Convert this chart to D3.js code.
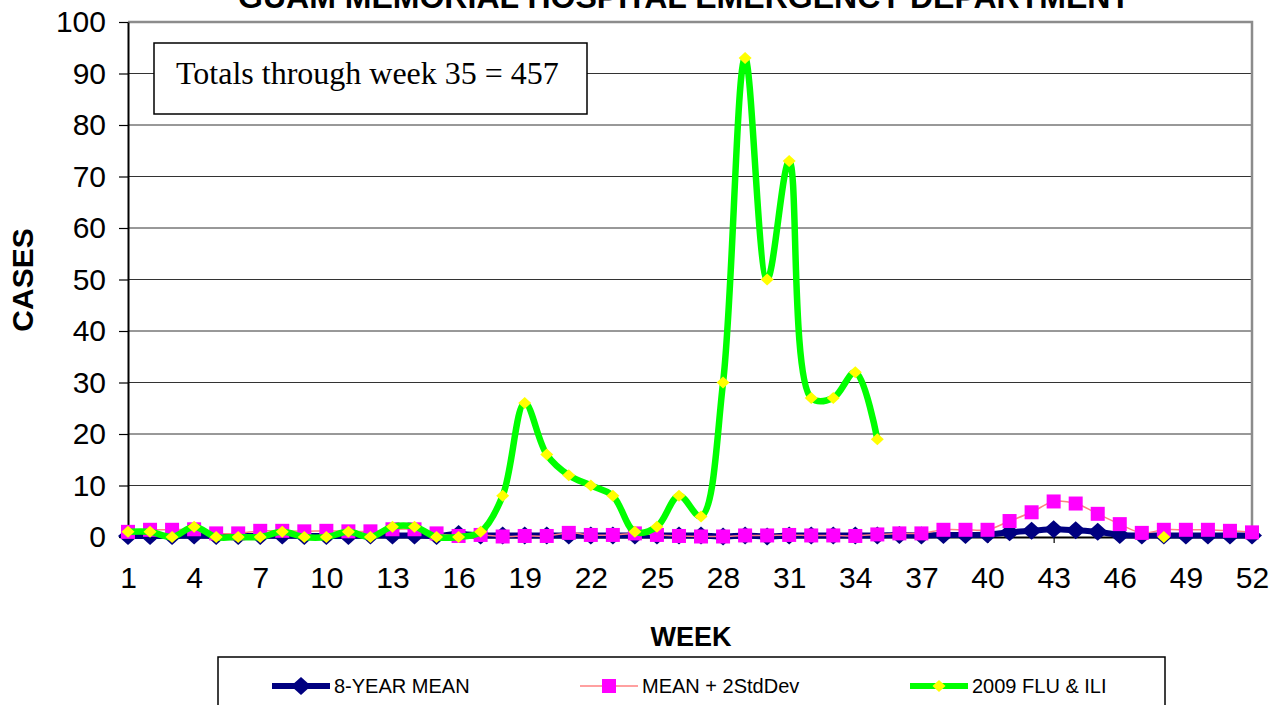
<!DOCTYPE html>
<html>
<head>
<meta charset="utf-8">
<script src="https://cdn.jsdelivr.net/npm/d3@7"></script>
<style>
body { margin: 0; background: #fff; }
text { font-family: Arial, "Liberation Sans", sans-serif; }
</style>
</head>
<body>
<div id="chart"></div>
<script>
// chart data
var weeks = d3.range(1, 53);
var xTicks = d3.range(1, 53, 3);
var yTicks = d3.range(0, 101, 10);

var mean8 = [0.2, 0.2, 0.2, 0.3, 0.2, 0.2, 0.2, 0.3, 0.2, 0.2, 0.2, 0.3, 0.3, 0.3, 0.2, 0.6, 0.3,
	0.3, 0.3, 0.3, 0.3, 0.3, 0.3, 0.3, 0.3, 0.3, 0.3, 0.1, 0.3, 0.1, 0.3, 0.3, 0.3, 0.3, 0.3,
	0.4, 0.3, 0.4, 0.4, 0.5, 0.9, 1.2, 1.5, 1.3, 1.0, 0.4, 0.3, 0.3, 0.3, 0.3, 0.3, 0.3];

var mean2sd = [1.0, 1.4, 1.4, 1.5, 0.7, 0.7, 1.2, 1.2, 1.1, 1.2, 1.1, 1.1, 1.5, 1.5, 0.7, 0.2, 0.4,
	0.1, 0.2, 0.2, 0.8, 0.4, 0.4, 0.7, 0.4, 0.2, 0.1, 0.1, 0.3, 0.3, 0.4, 0.3, 0.3, 0.2, 0.5,
	0.7, 0.7, 1.4, 1.4, 1.4, 3.1, 4.8, 6.9, 6.5, 4.5, 2.5, 0.8, 1.4, 1.4, 1.4, 1.2, 0.9];

var flu2009 = [1, 1, 0, 2, 0, 0, 0, 1, 0, 0, 1, 0, 2, 2, 0, 0, 1,
	8, 26, 16, 12, 10, 8, 1, 2, 8, 4, 30, 93, 50, 73, 27, 27, 32, 19,
	null, null, null, null, null, null, null, null, null, null, null, null, 0, null, null, null, null];

var seriesNames = ["8-YEAR MEAN", "MEAN + 2StdDev", "2009 FLU & ILI"];

var W = 1288, H = 705;
var svg = d3.select("#chart").append("svg")
	.attr("width", W)
	.attr("height", H)
	.style("background", "#fff");

var x = d3.scaleLinear().domain([1, 52]).range([128, 1252]);
var y = d3.scaleLinear().domain([0, 100]).range([537, 22]);

// gridlines
svg.append("g").selectAll("line")
	.data(yTicks.filter(function(d) { return d > 0 && d < 100; }))
	.enter().append("line")
	.attr("x1", 128).attr("x2", 1252)
	.attr("y1", function(d) { return y(d); })
	.attr("y2", function(d) { return y(d); })
	.style("stroke", "#333")
	.style("stroke-width", 1);

// plot border (top & right, gray)
svg.append("path")
	.attr("d", "M128," + y(100) + "H1252V" + y(0))
	.style("fill", "none")
	.style("stroke", "#8c8c8c")
	.style("stroke-width", 2.5);

// axes
var yAxis = svg.append("g")
	.attr("transform", "translate(128,0)")
	.call(d3.axisLeft(y).tickValues(yTicks).tickSize(9).tickPadding(13).tickSizeOuter(0));
var xAxis = svg.append("g")
	.attr("transform", "translate(0," + y(0) + ")")
	.call(d3.axisBottom(x).tickValues(xTicks).tickSize(6).tickPadding(24).tickSizeOuter(0));

[yAxis, xAxis].forEach(function(a) {
	a.select(".domain").style("stroke", "#000").style("stroke-width", 2);
	a.selectAll(".tick line").style("stroke", "#000").style("stroke-width", 1.2);
	a.selectAll(".tick text")
		.style("font-family", "Arial, 'Liberation Sans', sans-serif")
		.style("font-size", "30px")
		.style("fill", "#000");
});

// series
var curve = d3.curveCatmullRom.alpha(0.5);

function lineFor(vals) {
	return d3.line()
		.defined(function(d, i) { return vals[i] != null; })
		.x(function(d, i) { return x(weeks[i]); })
		.y(function(d, i) { return y(vals[i]); })
		.curve(curve)(vals);
}

function diamond(cx, cy, rw, rh) {
	return "M" + cx + "," + (cy - rh) + "L" + (cx + rw) + "," + cy +
		"L" + cx + "," + (cy + rh) + "L" + (cx - rw) + "," + cy + "Z";
}

// 8-year mean
svg.append("path")
	.attr("d", lineFor(mean8))
	.style("fill", "none").style("stroke", "#000080").style("stroke-width", 6);
svg.append("g").selectAll("path")
	.data(mean8)
	.enter().append("path")
	.attr("d", function(d, i) { return diamond(x(weeks[i]), y(d), 10, 9); })
	.style("fill", "#000080");

// mean + 2 sd
svg.append("path")
	.attr("d", lineFor(mean2sd))
	.style("fill", "none").style("stroke", "#ff8080").style("stroke-width", 1.5);
svg.append("g").selectAll("rect")
	.data(mean2sd)
	.enter().append("rect")
	.attr("x", function(d, i) { return x(weeks[i]) - 7; })
	.attr("y", function(d) { return y(d) - 7; })
	.attr("width", 14).attr("height", 14)
	.style("fill", "#ff00ff");

// 2009 flu
svg.append("path")
	.attr("d", lineFor(flu2009))
	.style("fill", "none").style("stroke", "#00ff00").style("stroke-width", 6.5)
	.style("stroke-linejoin", "round");
svg.append("g").selectAll("path")
	.data(flu2009.map(function(d, i) { return {w: weeks[i], v: d}; })
		.filter(function(d) { return d.v != null; }))
	.enter().append("path")
	.attr("d", function(d) { return diamond(x(d.w), y(d.v), 6.5, 6); })
	.style("fill", "#ffff00");

// title (cut off at top, as in the original)
svg.append("text")
	.attr("x", 684).attr("y", 8)
	.attr("text-anchor", "middle")
	.attr("textLength", 892).attr("lengthAdjust", "spacingAndGlyphs")
	.style("font-size", "31px").style("font-weight", "bold")
	.text("GUAM MEMORIAL HOSPITAL EMERGENCY DEPARTMENT");

// axis titles
svg.append("text")
	.attr("transform", "translate(33,280) rotate(-90)")
	.attr("text-anchor", "middle")
	.style("font-size", "30px").style("font-weight", "bold")
	.text("CASES");
svg.append("text")
	.attr("x", 691).attr("y", 646)
	.attr("text-anchor", "middle")
	.style("font-size", "27px").style("font-weight", "bold")
	.text("WEEK");

// totals box
svg.append("rect")
	.attr("x", 154).attr("y", 43).attr("width", 433).attr("height", 71)
	.style("fill", "#fff").style("stroke", "#000").style("stroke-width", 1.5);
svg.append("text")
	.attr("x", 176).attr("y", 84)
	.style("font-family", "'Liberation Serif', 'Times New Roman', serif")
	.style("font-size", "32px")
	.text("Totals through week 35 = 457");

// legend
svg.append("rect")
	.attr("x", 218).attr("y", 657).attr("width", 947).attr("height", 60)
	.style("fill", "#fff").style("stroke", "#000").style("stroke-width", 1.5);

var legX = [272, 580, 910];
var legY = 686;
var leg = svg.append("g").selectAll("g")
	.data(seriesNames)
	.enter().append("g")
	.attr("transform", function(d, i) { return "translate(" + legX[i] + "," + legY + ")"; });

leg.append("line")
	.attr("x1", 0).attr("x2", 58).attr("y1", 0).attr("y2", 0)
	.style("stroke", function(d, i) { return ["#000080", "#ff8080", "#00ff00"][i]; })
	.style("stroke-width", function(d, i) { return [6, 1.5, 6][i]; });
leg.append("path")
	.attr("d", function(d, i) {
		if (i == 1) return "M22,-7h14v14h-14Z";
		if (i == 0) return diamond(29, 0, 10, 9);
		return diamond(29, 0, 6.5, 6);
	})
	.style("fill", function(d, i) { return ["#000080", "#ff00ff", "#ffff00"][i]; });
leg.append("text")
	.attr("x", 62).attr("y", 7)
	.style("font-size", "20px")
	.text(function(d) { return d; });
</script>
</body>
</html>
